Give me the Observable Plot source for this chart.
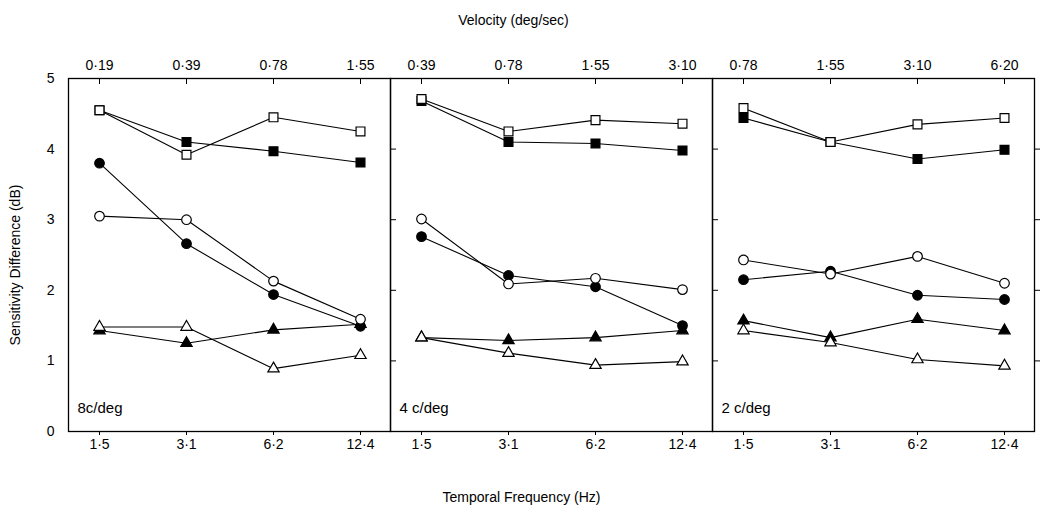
<!DOCTYPE html>
<html>
<head>
<meta charset="utf-8">
<script src="https://cdn.jsdelivr.net/npm/d3@7"></script>
<script src="https://cdn.jsdelivr.net/npm/@observablehq/plot@0.6"></script>
<style>
  html, body { margin: 0; padding: 0; background: white; }
</style>
</head>
<body>
<div id="chart"></div>
<script>
// Temporal frequency categories (Hz), shared by all panels
const freqs = ["1·5", "3·1", "6·2", "12·4"];
// Panels (spatial frequency)
const panels = ["8c/deg", "4 c/deg", "2 c/deg"];
// Velocity tick labels (deg/sec) for each panel
const vel8 = ["0·19", "0·39", "0·78", "1·55"];
const vel4 = ["0·39", "0·78", "1·55", "3·10"];
const vel2 = ["0·78", "1·55", "3·10", "6·20"];
const velocities = [vel8, vel4, vel2];
const yTicks = [0, 1, 2, 3, 4, 5];

// Series values, one row per panel (8, 4, 2 c/deg), one value per temporal frequency
const openSquare     = [[4.55, 3.92, 4.45, 4.25], [4.71, 4.25, 4.41, 4.36], [4.58, 4.10, 4.35, 4.44]];
const filledSquare   = [[4.55, 4.10, 3.97, 3.81], [4.68, 4.10, 4.08, 3.98], [4.44, 4.10, 3.86, 3.99]];
const openCircle     = [[3.05, 3.00, 2.13, 1.59], [3.01, 2.09, 2.17, 2.01], [2.43, 2.23, 2.48, 2.10]];
const filledCircle   = [[3.80, 2.66, 1.94, 1.49], [2.76, 2.21, 2.05, 1.50], [2.15, 2.27, 1.93, 1.87]];
const openTriangle   = [[1.48, 1.48, 0.89, 1.08], [1.33, 1.11, 0.94, 0.99], [1.43, 1.26, 1.02, 0.93]];
const filledTriangle = [[1.43, 1.25, 1.44, 1.52], [1.33, 1.29, 1.33, 1.43], [1.57, 1.33, 1.59, 1.43]];

const series = [
  {name: "filledTriangle", symbol: "triangle", fill: "black", values: filledTriangle},
  {name: "openTriangle", symbol: "triangle", fill: "white", values: openTriangle},
  {name: "filledCircle", symbol: "circle", fill: "black", values: filledCircle},
  {name: "openCircle", symbol: "circle", fill: "white", values: openCircle},
  {name: "filledSquare", symbol: "square", fill: "black", values: filledSquare},
  {name: "openSquare", symbol: "square", fill: "white", values: openSquare}
];
const symbolSize = {circle: 4.8, square: 5.0, triangle: 4.2};

const rows = series.flatMap(s =>
  panels.flatMap((p, pi) => freqs.map((f, fi) => ({series: s.name, panel: p, freq: f, value: s.values[pi][fi]})))
);
const velRows = panels.flatMap((p, pi) => freqs.map((f, fi) => ({panel: p, freq: f, vel: velocities[pi][fi]})));
const panelRows = panels.map(p => ({panel: p, label: p}));

const dotMarks = series.map(s =>
  Plot.dot(rows.filter(d => d.series === s.name), {
    fx: "panel", x: "freq", y: "value",
    symbol: s.symbol, r: symbolSize[s.symbol],
    fill: s.fill, stroke: "black", strokeWidth: 1.2
  })
);

const chart = Plot.plot({
  width: 1046,
  height: 520,
  marginTop: 78,
  marginBottom: 89,
  marginLeft: 68,
  marginRight: 12,
  style: {fontFamily: "'Liberation Sans', Arial, sans-serif", fontSize: "14px", background: "white", color: "black"},
  fx: {domain: panels, padding: 0, axis: null},
  x: {type: "point", domain: freqs, padding: 0.33},
  y: {domain: [0, 5]},
  marks: [
    Plot.axisY({anchor: "left", ticks: yTicks, tickSize: 0, tickPadding: 14, tickFormat: d => String(d), label: null, fontSize: 14}),
    Plot.axisY({anchor: "right", facetAnchor: null, ticks: yTicks.slice(1, 5), tickSize: 5, tickFormat: () => "", label: null}),
    Plot.axisX({anchor: "top", tickSize: -5, tickFormat: () => "", label: null}),
    Plot.axisX({anchor: "bottom", tickSize: 4, tickPadding: 4, label: null, fontSize: 14}),
    Plot.frame({stroke: "black", strokeWidth: 1.3}),
    Plot.line(rows, {fx: "panel", x: "freq", y: "value", z: "series", stroke: "black", strokeWidth: 1.1}),
    ...dotMarks,
    Plot.text(velRows, {fx: "panel", x: "freq", text: "vel", frameAnchor: "top", dy: -18, fontSize: 14}),
    Plot.text(panelRows, {fx: "panel", text: "label", frameAnchor: "bottom-left", textAnchor: "start", lineAnchor: "middle", dx: 9, dy: -23, fontSize: 15}),
    Plot.text([{panel: panels[0], t: "Sensitivity Difference (dB)"}], {fx: "panel", text: "t", frameAnchor: "left", textAnchor: "middle", rotate: -90, lineAnchor: "middle", dx: -53, dy: 10, fontSize: 14}),
    Plot.text([{panel: panels[1], t: "Velocity (deg/sec)"}], {fx: "panel", text: "t", frameAnchor: "top", lineAnchor: "middle", dy: -58, dx: -38, fontSize: 14}),
    Plot.text([{panel: panels[1], t: "Temporal Frequency (Hz)"}], {fx: "panel", text: "t", frameAnchor: "bottom", lineAnchor: "middle", dy: 66, dx: -30, fontSize: 14})
  ]
});
document.getElementById("chart").appendChild(chart);
</script>
</body>
</html>
